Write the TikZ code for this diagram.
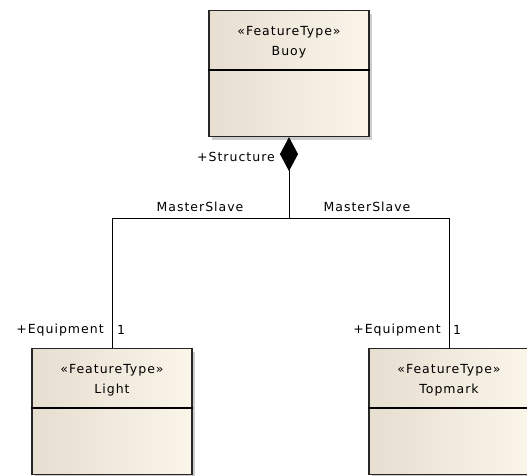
\documentclass[tikz,border=0pt]{standalone}
\usepackage{fontspec}
\setmainfont{DejaVu Sans}[LetterSpace=8]
\usetikzlibrary{arrows.meta,shadows}

\definecolor{boxleft}{RGB}{230,222,208}
\definecolor{boxright}{RGB}{251,245,234}

\begin{document}
\begin{tikzpicture}[
    x=1pt,
    y=1pt,
    every node/.style={font=\fontsize{12.5}{20}\selectfont, inner sep=1pt},
    ftbox/.style={draw=black!85, line width=1.1pt,
        left color=boxleft, right color=boxright,
        minimum width=160pt, minimum height=126pt,
        anchor=north, inner sep=0pt,
        drop shadow={shadow xshift=3pt, shadow yshift=-3pt, opacity=0.4}},
    assoc/.style={line width=1pt}
]
\useasboundingbox (0,0) rectangle (527,476);

% Feature type boxes
\foreach \n/\x/\y/\t in {buoy/289/466/Buoy, light/112/128/Light, topmark/449/128/Topmark}{
    \node[ftbox] (\n) at (\x,\y) {};
    \node[align=center] (\n-title) at (\x,\y-32) {«FeatureType»\\\t};
    \draw[line width=1.1pt] ([yshift=-60pt]\n.north west) -- ([yshift=-60pt]\n.north east);
}

% Composition
\coordinate (split) at (289,257);
\draw[assoc, {Diamond[length=34pt,width=18pt]}-] (buoy.south) -- (split);
\draw[assoc] (split) -| (light.north);
\draw[assoc] (split) -| (topmark.north);

% Role names and multiplicities
\node[anchor=east] (structure) at (276,319) {+Structure};
\node (ms-left) at (200,269) {MasterSlave};
\node (ms-right) at (367,269) {MasterSlave};
\node (equip-left) at (60,146) {+Equipment};
\node (mult-left) at (121,146) {1};
\node (equip-right) at (397,146) {+Equipment};
\node (mult-right) at (457,146) {1};

\end{tikzpicture}
\end{document}
